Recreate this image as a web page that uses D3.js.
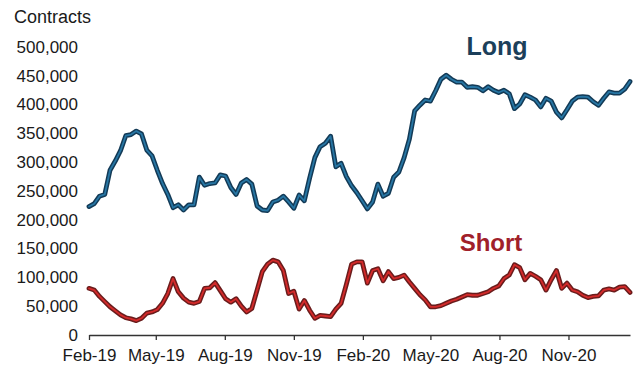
<!DOCTYPE html>
<html>
<head>
<meta charset="utf-8">
<script src="https://cdn.jsdelivr.net/npm/d3@7"></script>
<style>
  html, body { margin: 0; padding: 0; background: #fff; }
  svg { display: block; }
  text { font-family: "Liberation Sans", Arial, sans-serif; }
</style>
</head>
<body>
<svg id="chart" width="636" height="365"></svg>
<script>
// Weekly open positions, in thousands of contracts, starting 1 Feb 2019
const startDate = new Date(2019, 1, 1);
const longK = [
  223, 228, 241, 244, 286, 302, 320, 346, 348, 354,
  349, 321, 311, 286, 263, 244, 221, 226, 217, 226,
  226, 274, 260, 263, 264, 278, 276, 256, 244, 264,
  270, 262, 224, 217, 216, 231, 234, 241, 231, 220,
  243, 233, 272, 308, 327, 333, 345, 292, 298, 275,
  259, 247, 233, 219, 231, 262, 241, 246, 274, 283,
  308, 340, 389, 399, 408, 406, 424, 444, 451, 444,
  439, 439, 430, 431, 430, 424, 431, 425, 421, 425,
  419, 393, 401, 417, 413, 408, 396, 411, 406, 387,
  377, 391, 406, 413, 414, 413, 405, 399, 411, 422,
  420, 420, 427, 440
];
const shortK = [
  81, 78, 67, 58, 49, 42, 35, 30, 28, 25,
  29, 38, 40, 44, 55, 72, 98, 75, 64, 57,
  55, 58, 81, 82, 91, 77, 63, 57, 63, 50,
  40, 46, 78, 110, 123, 130, 127, 112, 72, 76,
  45, 60, 43, 29, 34, 33, 32, 45, 55, 88,
  123, 127, 127, 90, 112, 115, 94, 110, 98, 100,
  104, 92, 81, 70, 61, 49, 49, 51, 55, 59,
  62, 66, 70, 69, 69, 72, 75, 81, 85, 98,
  104, 122, 117, 96, 107, 102, 96, 78, 96, 112,
  81, 90, 78, 75, 69, 65, 67, 68, 78, 80,
  78, 83, 84, 74
];
const yTicks = [0, 50000, 100000, 150000, 200000, 250000, 300000, 350000, 400000, 450000, 500000];
const xTickDates = [
  new Date(2019, 1, 1), new Date(2019, 4, 1), new Date(2019, 7, 1), new Date(2019, 10, 1),
  new Date(2020, 1, 1), new Date(2020, 4, 1), new Date(2020, 7, 1), new Date(2020, 10, 1)
];

const weekly = (arr) => arr.map((v, i) => ({
  date: d3.timeDay.offset(startDate, i * 7),
  value: v * 1000
}));
const longSeries = weekly(longK);
const shortSeries = weekly(shortK);

const svg = d3.select("#chart");

const x = d3.scaleTime()
  .domain([startDate, new Date(2021, 0, 22)])
  .range([89, 630]);
const y = d3.scaleLinear()
  .domain([0, 500000])
  .range([335, 47]);

const fontSize = 17;

// Value axis: labels only
const fmt = d3.format(",");
svg.append("g")
  .selectAll("text")
  .data(yTicks)
  .join("text")
  .attr("x", 78)
  .attr("y", d => y(d))
  .attr("dy", "0.34em")
  .attr("text-anchor", "end")
  .attr("font-size", fontSize)
  .attr("fill", "#1a1a1a")
  .text(d => fmt(d));

svg.append("text")
  .attr("x", 14)
  .attr("y", 23)
  .attr("font-size", 18)
  .attr("fill", "#1a1a1a")
  .text("Contracts");

// Time axis
const xAxis = d3.axisBottom(x)
  .tickValues(xTickDates)
  .tickFormat(d3.timeFormat("%b-%y"))
  .tickSize(5)
  .tickSizeOuter(0);
const gx = svg.append("g")
  .attr("transform", "translate(0,335)")
  .call(xAxis);
gx.select(".domain").attr("stroke", "#333").attr("stroke-width", 1.3);
gx.selectAll(".tick line").attr("stroke", "#333").attr("stroke-width", 1.3);
gx.selectAll(".tick text")
  .attr("font-size", fontSize)
  .attr("fill", "#1a1a1a")
  .attr("font-family", "'Liberation Sans', Arial, sans-serif")
  .attr("dy", "1.03em");

const line = d3.line()
  .x(d => x(d.date))
  .y(d => y(d.value))
  .curve(d3.curveLinear);

function drawSeries(data, outer, inner) {
  svg.append("path")
    .datum(data)
    .attr("fill", "none")
    .attr("stroke", outer)
    .attr("stroke-width", 4.8)
    .attr("stroke-linejoin", "round")
    .attr("stroke-linecap", "round")
    .attr("d", line);
  svg.append("path")
    .datum(data)
    .attr("fill", "none")
    .attr("stroke", inner)
    .attr("stroke-width", 1.8)
    .attr("stroke-linejoin", "round")
    .attr("stroke-linecap", "round")
    .attr("d", line);
}

drawSeries(longSeries, "#133a56", "#2776a4");
drawSeries(shortSeries, "#6a1c1c", "#d42a2a");

// Series names
svg.append("text")
  .attr("x", 497)
  .attr("y", 55)
  .attr("text-anchor", "middle")
  .attr("font-size", 25)
  .attr("font-weight", "bold")
  .attr("fill", "#1c3f5a")
  .text("Long");

svg.append("text")
  .attr("x", 491)
  .attr("y", 251)
  .attr("text-anchor", "middle")
  .attr("font-size", 24)
  .attr("font-weight", "bold")
  .attr("fill", "#a0202a")
  .text("Short");
</script>
</body>
</html>
